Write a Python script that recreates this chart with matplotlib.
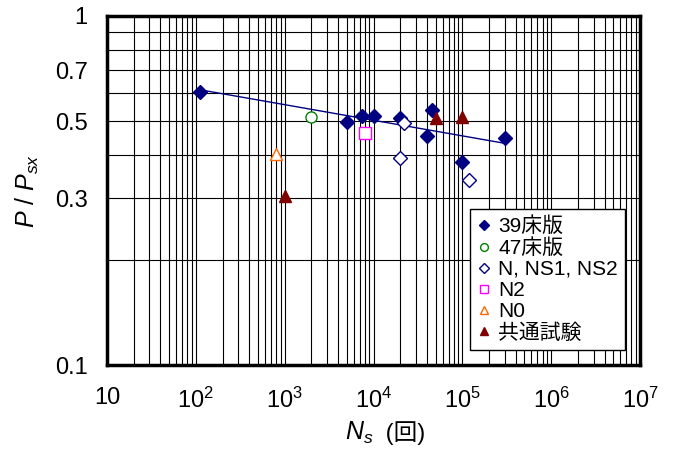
import numpy as np
import matplotlib
matplotlib.use("Agg")
import matplotlib.pyplot as plt
from matplotlib.ticker import FixedLocator, FixedFormatter, LogLocator, NullFormatter

plt.rcParams['font.family'] = ['Liberation Sans', 'Noto Sans CJK JP']
plt.rcParams['mathtext.fontset'] = 'custom'
plt.rcParams['mathtext.rm'] = 'Liberation Sans'
plt.rcParams['mathtext.it'] = 'Liberation Sans:italic'

# --- dados (Ns em ciclos, P/Psx) ---
ns_39 = [110, 5000, 7500, 10000, 20000, 40500, 45400, 100000, 300000]
p_39 = [0.606, 0.498, 0.518, 0.518, 0.511, 0.454, 0.537, 0.382, 0.448]

ns_47 = [2000]
p_47 = [0.515]

ns_n = [22000, 20000, 120000]
p_n = [0.493, 0.393, 0.340]

ns_n2 = [8000]
p_n2 = [0.463]

ns_n0 = [800]
p_n0 = [0.402]

ns_com = [1000, 50000, 100000]
p_com = [0.304, 0.509, 0.515]

x_ticks = [1e1, 1e2, 1e3, 1e4, 1e5, 1e6, 1e7]
x_labels = ['10', '10$^{2}$', '10$^{3}$', '10$^{4}$', '10$^{5}$', '10$^{6}$', '10$^{7}$']
y_grid = [0.1, 0.2, 0.3, 0.4, 0.5, 0.6, 0.7, 0.8, 0.9, 1.0]
y_labels = ['0.1', '', '0.3', '', '0.5', '', '0.7', '', '', '1']

fig = plt.figure(figsize=(6.82, 4.53), dpi=100)
ax = fig.add_axes([107/682, 1 - 365/453, 533/682, 349/453])

ax.set_xscale('log')
ax.set_yscale('log')
ax.set_xlim(10, 1e7)
ax.set_ylim(0.1, 1)

# reta de regressão (potência) sobre os dados do 39床版
b, a = np.polyfit(np.log10(ns_39), np.log10(p_39), 1)
xr = np.array([min(ns_39), max(ns_39)])
ax.plot(xr, 10**a * xr**b, color='#000080', lw=1, zorder=3)

ax.plot(ns_39, p_39, 'D', ms=7, mfc='#000080', mec='#000080', ls='none', label='39床版', zorder=4)
ax.plot(ns_47, p_47, 'o', ms=8, mfc='white', mec='#008000', mew=1, ls='none', label='47床版', zorder=4)
ax.plot(ns_n, p_n, 'D', ms=7, mfc='white', mec='#000080', mew=1, ls='none', label='N, NS1, NS2', zorder=4)
ax.plot(ns_n2, p_n2, 's', ms=8, mfc='white', mec='#FF00FF', mew=1, ls='none', label='N2', zorder=4)
ax.plot(ns_n0, p_n0, '^', ms=8, mfc='white', mec='#FF6600', mew=1, ls='none', label='N0', zorder=4)
ax.plot(ns_com, p_com, '^', ms=8, mfc='#800000', mec='#800000', ls='none', label='共通試験', zorder=4)

# grade
ax.xaxis.set_major_locator(FixedLocator(x_ticks))
ax.xaxis.set_major_formatter(FixedFormatter(x_labels))
ax.xaxis.set_minor_locator(LogLocator(base=10, subs=np.arange(2, 10)))
ax.xaxis.set_minor_formatter(NullFormatter())
ax.yaxis.set_major_locator(FixedLocator(y_grid))
ax.yaxis.set_major_formatter(FixedFormatter(y_labels))
ax.yaxis.set_minor_locator(FixedLocator([]))
ax.grid(True, which='both', color='black', lw=0.8)
ax.set_axisbelow(True)

ax.tick_params(which='both', length=0, labelsize=17)
ax.tick_params(axis='x', pad=16)
ax.tick_params(axis='y', pad=14)

for s in ax.spines.values():
    s.set_linewidth(2.5)

ax.set_ylabel('$P$ / $P_{sx}$', fontsize=18, labelpad=10)
ax.text(0.5, -0.195, '$N_s$', transform=ax.transAxes, ha='right', va='center', fontsize=18)
ax.text(0.51, -0.195, ' (回)', transform=ax.transAxes, ha='left', va='center', fontsize=17)

leg = ax.legend(loc='lower right', bbox_to_anchor=(0.972, 0.043), borderaxespad=0,
                fontsize=15, fancybox=False, framealpha=1, edgecolor='black',
                markerscale=0.7, handlelength=0.6, handletextpad=0.4,
                labelspacing=0.1, borderpad=0.35)
leg.get_frame().set_linewidth(1)

fig.savefig('out.png', dpi=100)
